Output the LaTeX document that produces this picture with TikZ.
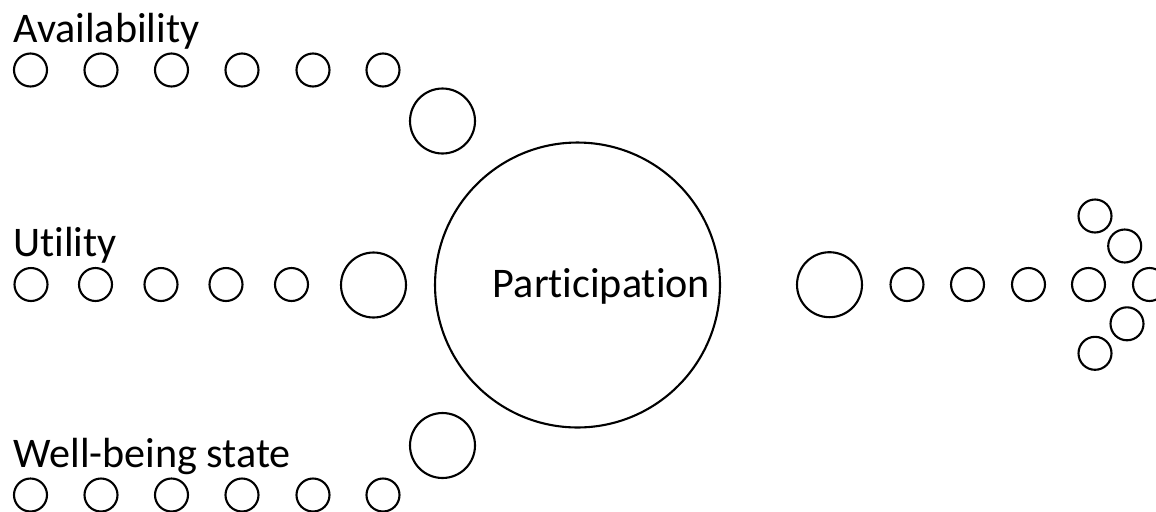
\documentclass[tikz,border=0pt]{standalone}
\usepackage{fontspec}
\setmainfont{Carlito}[Ligatures={NoCommon}]
\usetikzlibrary{positioning}
\tikzset{
  dot/.style={draw,circle,line width=1.2pt,minimum size=0.66cm,inner sep=0pt},
  bigdot/.style={dot,minimum size=1.3cm},
  hub/.style={dot,minimum size=5.7cm},
  lbl/.style={font=\fontsize{24}{28}\selectfont,inner sep=0pt}
}
\begin{document}
\begin{tikzpicture}[x=0.02cm,y=-0.02cm]
  \useasboundingbox (0,0) rectangle (1156,511);
  % central circle
  \node[hub] (hub) at (577.5,285) {};
  \node[lbl,anchor=base] (hubLbl) at (601.5,297) {Participation};
  % availability stream
  \node[lbl,anchor=base west] (availLbl) at (13,42) {Availability};
  \foreach \i/\x in {1/30.5,2/101,3/171.5,4/242,5/313,6/383} \node[dot] (avail\i) at (\x,70) {};
  \node[bigdot] (availBig) at (442.5,121) {};
  % utility stream
  \node[lbl,anchor=base west] (utilLbl) at (13,256) {Utility};
  \foreach \i/\x in {1/31,2/95.5,3/161,4/226,5/291.5} \node[dot] (util\i) at (\x,284.5) {};
  \node[bigdot] (utilBig) at (373.5,285) {};
  % well-being stream
  \node[lbl,anchor=base west] (wellLbl) at (13,467) {Well-being state};
  \foreach \i/\x in {1/30.5,2/101,3/171.5,4/242,5/313,6/383} \node[dot] (well\i) at (\x,495) {};
  \node[bigdot] (wellBig) at (442.5,445.5) {};
  % output arrow
  \node[bigdot] (outBig) at (829.5,284.7) {};
  \foreach \i/\x in {1/907,2/967.5,3/1028.5,4/1088.5,5/1149.5} \node[dot] (out\i) at (\x,284.5) {};
  \node[dot] (tipA) at (1095,216) {};   \node[dot] (tipB) at (1124.7,246) {};
  \node[dot] (tipC) at (1127,323.8) {}; \node[dot] (tipD) at (1095,353.3) {};
\end{tikzpicture}
\end{document}
